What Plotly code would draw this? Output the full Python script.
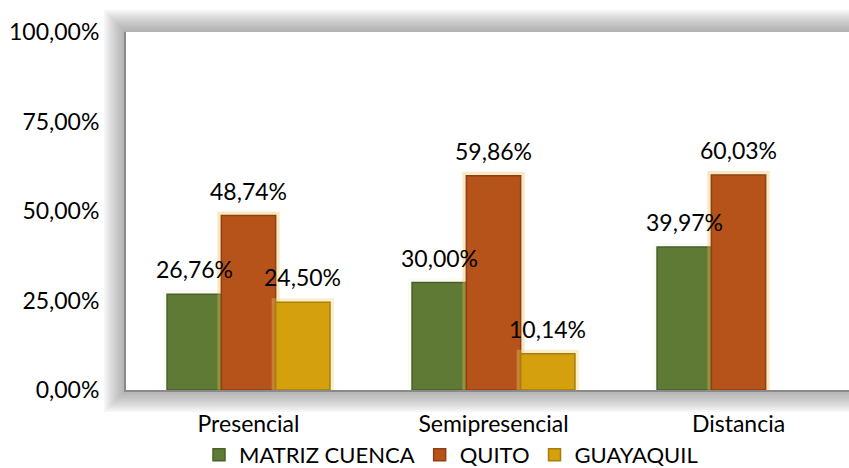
import plotly.graph_objects as go

categories = ["Presencial", "Semipresencial", "Distancia"]
matriz_cuenca = [26.76, 30.00, 39.97]
quito = [48.74, 59.86, 60.03]
guayaquil = [24.50, 10.14, None]
series_names = ["MATRIZ CUENCA", "QUITO", "GUAYAQUIL"]
y_ticks = [0, 25, 50, 75, 100]
y_tick_labels = ["0,00%", "25,00%", "50,00%", "75,00%", "100,00%"]

colors = ["#5f7a35", "#b5531a", "#d4a00e"]
edge_colors = ["#4a5f28", "#8f4012", "#a87e08"]
glow_colors = ["rgba(220,225,190,0.15)", "rgba(240,190,80,0.35)", "rgba(240,210,110,0.35)"]
FONT = "Lato"
FS = 23

# figure is wider than the window so the plot area runs past the right edge
L, T, B, W, H = 126, 32, 78, 880, 468
plot_w = W - L
plot_h = H - T - B
CAT_PX = 245

xs = list(range(len(categories)))
bargap = 0.335
bar_w = (1 - bargap) / 3
series = [matriz_cuenca, quito, guayaquil]

fig = go.Figure()
for j, (name, vals) in enumerate(zip(series_names, series)):
    fig.add_trace(go.Bar(
        x=xs, y=vals, offsetgroup=str(j), showlegend=False, hoverinfo="skip",
        marker=dict(color="rgba(0,0,0,0)", line=dict(color=glow_colors[j], width=8)),
    ))
    fig.add_trace(go.Bar(
        x=xs, y=vals, name=name, offsetgroup=str(j),
        marker=dict(color=colors[j], line=dict(color=edge_colors[j], width=1.5)),
    ))

annotations = []
for j, vals in enumerate(series):
    for i, v in enumerate(vals):
        if v is None:
            continue
        annotations.append(dict(
            x=xs[i] + (j - 1) * bar_w, y=v, xref="x", yref="y",
            text=f"{v:.2f}".replace(".", ",") + "%", showarrow=False,
            yshift=25, font=dict(family=FONT, size=FS, color="#000"),
        ))

shapes = []
n = 10
for k in range(n, 0, -1):
    px = 2.2 * k
    shapes.append(dict(
        type="rect", xref="paper", yref="paper", layer="below",
        x0=-px / plot_w, x1=1 + px / plot_w,
        y0=-px / plot_h, y1=1 + px / plot_h,
        fillcolor="rgba(120,120,120,0.075)", line=dict(width=0),
    ))
shapes.append(dict(
    type="rect", xref="paper", yref="paper", layer="below",
    x0=0, x1=1, y0=0, y1=1, fillcolor="white", line=dict(width=0),
))

fig.update_layout(
    width=W, height=H,
    margin=dict(l=L, r=0, t=T, b=B, autoexpand=False),
    paper_bgcolor="white", plot_bgcolor="rgba(0,0,0,0)",
    barmode="group", bargap=bargap, bargroupgap=0,
    separators=",.",
    font=dict(family=FONT, size=FS, color="#000"),
    showlegend=True,
    legend=dict(orientation="h", x=(451 - L) / plot_w, xanchor="center",
                y=-65 / plot_h, yanchor="middle", itemwidth=30,
                bgcolor="rgba(0,0,0,0)",
                font=dict(family=FONT, size=22), traceorder="normal"),
    annotations=annotations, shapes=shapes,
    hovermode=False,
)
fig.update_xaxes(
    tickvals=xs, ticktext=categories, range=[-0.5, -0.5 + plot_w / CAT_PX],
    showline=True, linecolor="#8a8a8a", linewidth=2, ticks="", showgrid=False,
    zeroline=False, ticklabelstandoff=12, tickfont=dict(family=FONT, size=FS),
    automargin=False,
)
fig.update_yaxes(
    range=[0, 100], tickvals=y_ticks, ticktext=y_tick_labels,
    showline=True, linecolor="#8a8a8a", linewidth=2, ticks="", showgrid=False,
    zeroline=False, ticklabelstandoff=20, tickfont=dict(family=FONT, size=FS),
    automargin=False,
)

fig.write_html(
    "out.html",
    config={"displayModeBar": False, "responsive": False},
    post_script="document.body.style.margin='0';document.body.style.overflow='hidden';",
)
